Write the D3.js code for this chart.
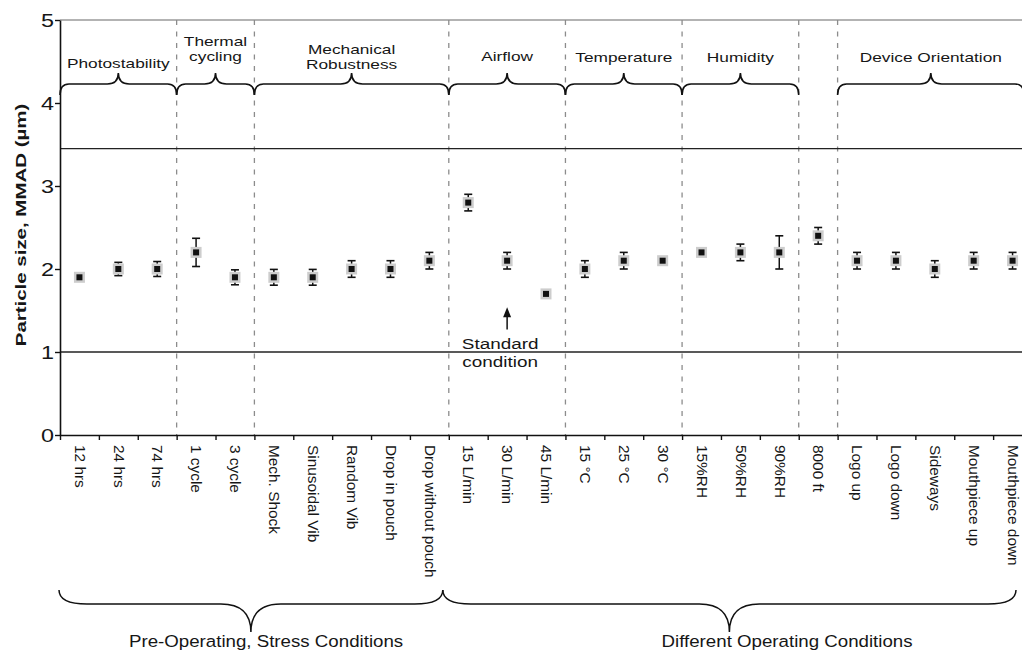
<!DOCTYPE html>
<html>
<head>
<meta charset="utf-8">
<script src="https://cdn.jsdelivr.net/npm/d3@7"></script>
<style>
  body { margin: 0; background: #fff; }
  text { font-family: "Liberation Sans", Arial, Helvetica, sans-serif; fill: #161616; }
</style>
</head>
<body>
<svg id="chart" width="1022" height="655"></svg>
<script>
// ---- data ----
const categories = [
  "12 hrs", "24 hrs", "74 hrs", "1 cycle", "3 cycle",
  "Mech. Shock", "Sinusoidal Vib", "Random Vib", "Drop in pouch", "Drop without pouch",
  "15 L/min", "30 L/min", "45 L/min", "15 °C", "25 °C", "30 °C",
  "15%RH", "50%RH", "90%RH", "8000 ft",
  "Logo up", "Logo down", "Sideways", "Mouthpiece up", "Mouthpiece down"
];
// MMAD mean (µm) and error bar half-width
const mmad = [1.9, 2.0, 2.0, 2.2, 1.9, 1.9, 1.9, 2.0, 2.0, 2.1,
              2.8, 2.1, 1.7, 2.0, 2.1, 2.1, 2.2, 2.2, 2.2, 2.4,
              2.1, 2.1, 2.0, 2.1, 2.1];
const mmadErr = [0.01, 0.08, 0.09, 0.17, 0.09, 0.095, 0.095, 0.1, 0.1, 0.1,
                 0.1, 0.1, 0.01, 0.1, 0.1, 0.01, 0.01, 0.1, 0.2, 0.1,
                 0.1, 0.1, 0.1, 0.1, 0.1];
const yTicks = [0, 1, 2, 3, 4, 5];
const specLimits = [1.0, 3.45];

// test groups: label lines, first category index, end index (exclusive)
const groupLabels = [["Photostability"], ["Thermal", "cycling"], ["Mechanical", "Robustness"],
                     ["Airflow"], ["Temperature"], ["Humidity"], [], ["Device Orientation"]];
const groupStart = [0, 3, 5, 10, 13, 16, 19, 20];
const groupEnd   = [3, 5, 10, 13, 16, 19, 20, 25];

const phaseLabels = ["Pre-Operating, Stress Conditions", "Different Operating Conditions"];
const phaseStart = [0, 10];
const phaseEnd = [10, 25];

const standardIndex = 11;  // 30 L/min
const arrowFrom = 1.27, arrowTo = 1.54;

// ---- layout ----
const W = 1022, H = 655;
const left = 60, step = 38.88;
// baseline of the last line of each group heading
const headingBase = [68, 61, 69, 61, 62, 62, 62, 62];
const svg = d3.select("#chart");

const x = d3.scaleBand().domain(categories).range([left, left + step * categories.length]).padding(0);
const xi = d3.scaleLinear().domain([0, categories.length]).range([left, left + step * categories.length]);
const y = d3.scaleLinear().domain([0, 5]).range([435, 20]);
const cx = d => x(d) + x.bandwidth() / 2;

// top frame line
svg.append("line").attr("x1", left).attr("x2", W).attr("y1", y(5)).attr("y2", y(5))
  .attr("stroke", "#9a9a9a").attr("stroke-width", 1.6);

// group separators
const seps = groupStart.slice(1);
svg.append("g").selectAll("line").data(seps).join("line")
  .attr("x1", d => xi(d)).attr("x2", d => xi(d))
  .attr("y1", y(5)).attr("y2", y(0))
  .attr("stroke", "#8c8c8c").attr("stroke-width", 1.3)
  .attr("stroke-dasharray", "5,6.5");

// specification limits
svg.append("g").selectAll("line").data(specLimits).join("line")
  .attr("x1", left).attr("x2", W).attr("y1", d => y(d)).attr("y2", d => y(d))
  .attr("stroke", "#222").attr("stroke-width", 1.4);

// y axis
const yAxis = svg.append("g").attr("transform", `translate(${left},0)`)
  .call(d3.axisLeft(y).tickValues(yTicks).tickSize(5).tickSizeOuter(0).tickFormat(d3.format("d")));
yAxis.select(".domain").attr("stroke", "#111").attr("stroke-width", 1.6);
yAxis.selectAll(".tick line").attr("stroke", "#111").attr("stroke-width", 1.4);
yAxis.selectAll(".tick text")
  .attr("x", null).attr("dy", "0.35em")
  .attr("transform", "translate(-6,0) scale(1.3,1)")
  .style("font-size", "18px").attr("fill", "#161616").attr("font-family", null);

// x axis (boundary ticks)
const xAxis = svg.append("g").attr("transform", `translate(0,${y(0)})`)
  .call(d3.axisBottom(xi).tickValues(d3.range(categories.length + 1)).tickSize(5).tickSizeOuter(0).tickFormat(""));
xAxis.select(".domain").attr("stroke", "#111").attr("stroke-width", 1.6);
xAxis.selectAll(".tick line").attr("stroke", "#111").attr("stroke-width", 1.4);

// category labels
svg.append("g").selectAll("text").data(categories).join("text")
  .attr("transform", d => `translate(${cx(d)},445) rotate(90) scale(1.1,1)`)
  .attr("dominant-baseline", "central")
  .style("font-size", "14px")
  .text(d => d);

// y axis title
svg.append("text")
  .attr("transform", "translate(25.5,225) rotate(-90) scale(1.32,1)")
  .attr("text-anchor", "middle")
  .style("font-size", "15.5px").style("font-weight", "bold")
  .text("Particle size, MMAD (µm)");

// error bars + markers
const pts = categories.map((c, i) => ({ c, m: mmad[i], e: mmadErr[i] }));
const eg = svg.append("g");
eg.selectAll("line.bar").data(pts).join("line").attr("class", "bar")
  .attr("x1", d => cx(d.c)).attr("x2", d => cx(d.c))
  .attr("y1", d => y(d.m - d.e)).attr("y2", d => y(d.m + d.e))
  .attr("stroke", "#111").attr("stroke-width", 1.5);
["lo", "hi"].forEach(k => {
  eg.selectAll("line.cap" + k).data(pts).join("line").attr("class", "cap" + k)
    .attr("x1", d => cx(d.c) - 4).attr("x2", d => cx(d.c) + 4)
    .attr("y1", d => y(k === "lo" ? d.m - d.e : d.m + d.e))
    .attr("y2", d => y(k === "lo" ? d.m - d.e : d.m + d.e))
    .attr("stroke", "#111").attr("stroke-width", 1.6);
});
eg.selectAll("rect.halo").data(pts).join("rect").attr("class", "halo")
  .attr("x", d => cx(d.c) - 5.5).attr("y", d => y(d.m) - 5.5)
  .attr("width", 11).attr("height", 11).attr("fill", "#cdcdcd");
eg.selectAll("rect.dot").data(pts).join("rect").attr("class", "dot")
  .attr("x", d => cx(d.c) - 3).attr("y", d => y(d.m) - 3)
  .attr("width", 6).attr("height", 6).attr("fill", "#111");

// curly braces
function braceUp(x0, x1, yb) {
  const xm = (x0 + x1) / 2, r = 9, tip = 11, cusp = 11, cw = 11;
  return `M${x0},${yb + tip} Q${x0},${yb} ${x0 + r},${yb} L${xm - cw},${yb} Q${xm},${yb} ${xm},${yb - cusp}` +
         ` Q${xm},${yb} ${xm + cw},${yb} L${x1 - r},${yb} Q${x1},${yb} ${x1},${yb + tip}`;
}
function braceDown(x0, x1, yb) {
  const xm = (x0 + x1) / 2, r = 28, tip = 14, cusp = 28, cw = 30;
  return `M${x0},${yb - tip} Q${x0},${yb} ${x0 + r},${yb} L${xm - cw},${yb} Q${xm},${yb} ${xm},${yb + cusp}` +
         ` Q${xm},${yb} ${xm + cw},${yb} L${x1 - r},${yb} Q${x1},${yb} ${x1},${yb - tip}`;
}

const groups = groupLabels.map((g, i) => ({
  lines: g, base: headingBase[i],
  x0: xi(groupStart[i]), x1: Math.min(xi(groupEnd[i]), W + 2)
})).filter(g => g.lines.length);

svg.append("g").selectAll("path").data(groups).join("path")
  .attr("d", g => braceUp(g.x0, g.x1, 84))
  .attr("fill", "none").attr("stroke", "#111").attr("stroke-width", 1.6);

const gl = svg.append("g").selectAll("g").data(groups).join("g");
gl.each(function (g) {
  const n = g.lines.length;
  d3.select(this).selectAll("text").data(g.lines).join("text")
    .attr("transform", (t, j) =>
      `translate(${(g.x0 + g.x1) / 2},${g.base - (n - 1 - j) * 15}) scale(1.28,1)`)
    .attr("text-anchor", "middle")
    .style("font-size", "13.5px")
    .text(t => t);
});

// phase braces
const phases = phaseLabels.map((p, i) => ({
  label: p,
  x0: xi(phaseStart[i]) - 1,
  x1: phaseEnd[i] >= categories.length ? W - 6 : xi(phaseEnd[i]) - 6
}));
phases[1].x0 = phases[0].x1;
svg.append("g").selectAll("path").data(phases).join("path")
  .attr("d", p => braceDown(p.x0, p.x1, 604))
  .attr("fill", "none").attr("stroke", "#111").attr("stroke-width", 1.5);
const phaseTextAt = [5.3, 18.7];
svg.append("g").selectAll("text").data(phases).join("text")
  .attr("transform", (p, i) => `translate(${xi(phaseTextAt[i])},647) scale(1.1,1)`)
  .attr("text-anchor", "middle")
  .style("font-size", "17px")
  .text(p => p.label);

// standard condition annotation
const sx = cx(categories[standardIndex]);
svg.append("line").attr("x1", sx).attr("x2", sx)
  .attr("y1", y(arrowFrom)).attr("y2", y(arrowTo) + 8)
  .attr("stroke", "#111").attr("stroke-width", 1.5);
svg.append("path")
  .attr("d", `M${sx},${y(arrowTo)} L${sx - 4},${y(arrowTo) + 10} L${sx + 4},${y(arrowTo) + 10} Z`)
  .attr("fill", "#111");
["Standard", "condition"].forEach((t, j) => {
  svg.append("text")
    .attr("transform", `translate(${sx - 7},${349 + j * 18}) scale(1.22,1)`)
    .attr("text-anchor", "middle")
    .style("font-size", "15.5px")
    .text(t);
});
</script>
</body>
</html>
